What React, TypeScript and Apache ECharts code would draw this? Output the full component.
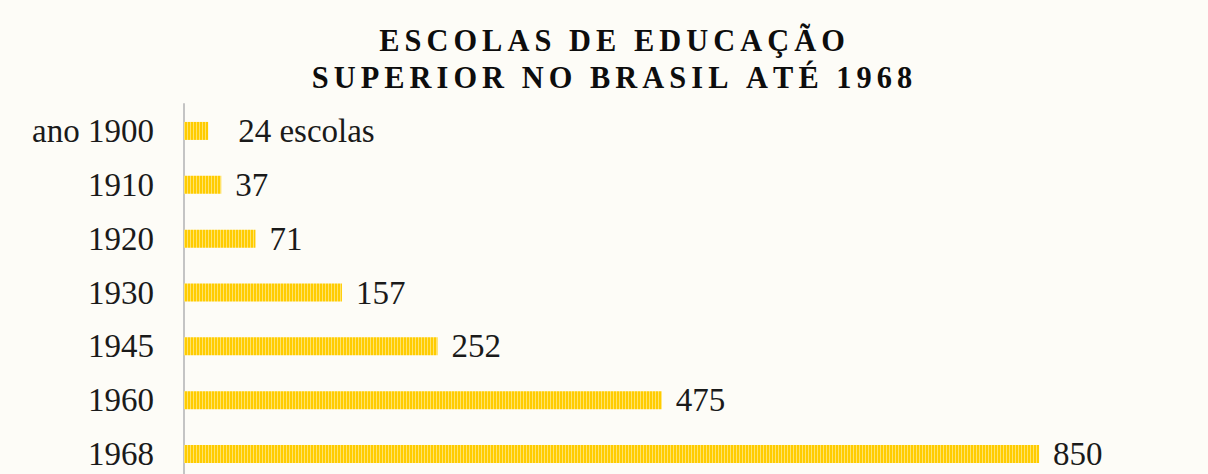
import React, { useEffect, useRef } from "react";
import * as echarts from "echarts";

const titleLines = ["ESCOLAS DE EDUCAÇÃO", "SUPERIOR NO BRASIL ATÉ 1968"];
const categories = ["ano 1900", "1910", "1920", "1930", "1945", "1960", "1968"];
const schools = [24, 37, 71, 157, 252, 475, 850];
const firstLabelSuffix = " escolas";

const SERIF = "'Liberation Serif', 'Times New Roman', serif";

function spaced(s: string): string {
  return Array.from(s).join("\u2006");
}

function makeStripe(): any {
  const c = document.createElement("canvas");
  c.width = 3;
  c.height = 1;
  const ctx = c.getContext("2d")!;
  ctx.fillStyle = "#FFCC00";
  ctx.fillRect(0, 0, 3, 1);
  ctx.fillStyle = "#FFE36B";
  ctx.fillRect(2, 0, 1, 1);
  return { image: c, repeat: "repeat", imageWidth: 3, imageHeight: 1 };
}

export default function App() {
  const ref = useRef<HTMLDivElement>(null);

  useEffect(() => {
    if (!ref.current) return;
    const chart = echarts.init(ref.current, null, { renderer: "svg" });
    const stripe = makeStripe();
    const titleStyle = (text: string) => ({
      text: spaced(text),
      font: `bold 31px ${SERIF}`,
      fill: "#0d0d0d",
      align: "center",
      verticalAlign: "middle",
    });
    chart.setOption({
      animation: false,
      backgroundColor: "#fdfcf7",
      graphic: [
        {
          type: "text",
          x: 604,
          y: 40,
          scaleX: 0.98,
          scaleY: 1.05,
          style: titleStyle(titleLines[0]),
        },
        {
          type: "text",
          x: 604,
          y: 77,
          scaleX: 0.98,
          scaleY: 1.05,
          style: titleStyle(titleLines[1]),
        },
      ],
      grid: { left: 176, top: 104, height: 377, width: 1006 },
      xAxis: {
        type: "value",
        min: 0,
        max: 1000,
        show: false,
      },
      yAxis: {
        type: "category",
        inverse: true,
        data: categories,
        axisLine: { show: true, lineStyle: { color: "#c4c4c4", width: 2 } },
        axisTick: { show: false },
        axisLabel: {
          fontFamily: SERIF,
          fontSize: 33,
          color: "#1a1a1a",
          margin: 30,
        },
      },
      series: [
        {
          type: "bar",
          barWidth: 18,
          data: schools.map((v, i) =>
            i === 0
              ? {
                  value: v,
                  label: { distance: 30, formatter: `{c}${firstLabelSuffix}` },
                }
              : v
          ),
          itemStyle: { color: stripe },
          label: {
            show: true,
            position: "right",
            distance: 14,
            fontFamily: SERIF,
            fontSize: 33,
            color: "#1a1a1a",
          },
        },
      ],
    });
    return () => chart.dispose();
  }, []);

  return (
    <div
      style={{
        position: "absolute",
        left: 0,
        top: 0,
        width: 1208,
        height: 474,
        overflow: "hidden",
        background: "#fdfcf7",
      }}
    >
      <div
        ref={ref}
        style={{
          position: "absolute",
          left: 8,
          top: 0,
          width: 1200,
          height: 500,
        }}
      />
    </div>
  );
}
